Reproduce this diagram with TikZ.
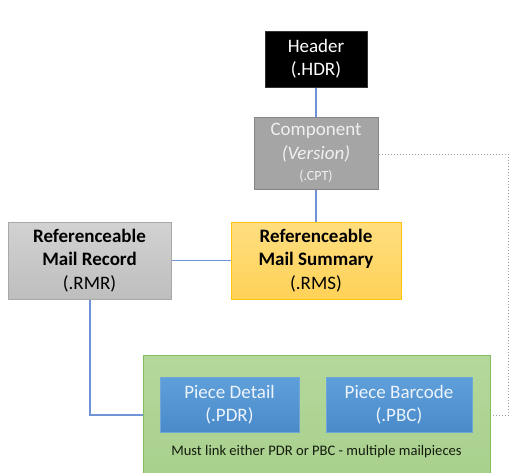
\documentclass[tikz,border=0pt]{standalone}
\usepackage{fontspec}
\setmainfont{Carlito}
\usetikzlibrary{positioning,calc}
\definecolor{linkblue}{HTML}{6F93D6}
\definecolor{dotgray}{HTML}{A0A0A0}
\definecolor{cptfill}{HTML}{A5A5A5}
\definecolor{cptdraw}{HTML}{858585}
\definecolor{cpttext}{HTML}{F0F0F0}
\definecolor{rmrtop}{HTML}{D2D2D2}
\definecolor{rmrbot}{HTML}{BEBEBE}
\definecolor{rmrdraw}{HTML}{A8A8A8}
\definecolor{rmstop}{HTML}{FFDE80}
\definecolor{rmsbot}{HTML}{FFD257}
\definecolor{rmsdraw}{HTML}{FFC20E}
\definecolor{grnfill}{HTML}{A8D08C}
\definecolor{grntop}{HTML}{B4D89C}
\definecolor{grndraw}{HTML}{82BE5E}
\definecolor{bluetop}{HTML}{5FA0DB}
\definecolor{bluebot}{HTML}{4A8AC9}
\definecolor{bluedraw}{HTML}{6EA6DA}
\definecolor{bluetext}{HTML}{EEF4FB}
\definecolor{greentext}{HTML}{141C0E}
\tikzset{
  box/.style={rectangle, inner sep=0pt, align=center, line width=1pt,
    font=\fontsize{19}{23.3}\selectfont},
  link/.style={draw=linkblue, line width=1.5pt},
  dotlink/.style={draw=dotgray, line width=1pt, dotted},
}
\begin{document}
\begin{tikzpicture}[x=1pt,y=-1pt]
\useasboundingbox (0,0) rectangle (509,472);
% green container (its lower edge lies below the picture)
\node[box, draw=grndraw, top color=grntop, bottom color=grnfill,
  minimum width=347pt, minimum height=126pt, anchor=north west] (grp) at (143,354.5) {};
\node[box, draw=bluedraw, top color=bluetop, bottom color=bluebot, text=bluetext,
  minimum width=139pt, minimum height=55pt] (pdr) at (229.5,404.5) {Piece Detail\\(.PDR)};
\node[box, draw=bluedraw, top color=bluetop, bottom color=bluebot, text=bluetext,
  minimum width=146pt, minimum height=55pt] (pbc) at (399,404.5) {Piece Barcode\\(.PBC)};
\node[inner sep=0pt, text=greentext, font=\fontsize{14.6}{17}\selectfont] (note) at (316.5,452)
  {Must link either PDR or PBC - multiple mailpieces};
% header
\node[box, fill=black, draw=black!80, text=white,
  minimum width=102pt, minimum height=56pt] (hdr) at (316,59) {Header\\(.HDR)};
% component
\node[box, fill=cptfill, draw=cptdraw, text=cpttext,
  minimum width=124pt, minimum height=72pt] (cpt) at (316,153)
  {Component\\\textit{(Version)}\\[-2pt]{\fontsize{14}{16}\selectfont(.CPT)}};
% RMR
\node[box, draw=rmrdraw, top color=rmrtop, bottom color=rmrbot, text=black,
  minimum width=163pt, minimum height=77pt] (rmr) at (89.5,260.5)
  {\textbf{Referenceable}\\\textbf{Mail Record}\\(.RMR)};
% RMS
\node[box, draw=rmsdraw, top color=rmstop, bottom color=rmsbot, text=black,
  minimum width=170pt, minimum height=77pt] (rms) at (316,260.5)
  {\textbf{Referenceable}\\\textbf{Mail Summary}\\(.RMS)};
% connectors
\coordinate (c1) at (90,415);
\coordinate (d1) at (508,154);
\coordinate (d2) at (508,415);
\draw[link] (hdr.south) -- (cpt.north);
\draw[link] (cpt.south) -- (rms.north);
\draw[link] (rmr.east) -- (rms.west);
\draw[link] (rmr.south -| c1) -- (c1) -- (c1 -| grp.west);
\draw[dotlink] (cpt.east |- d1) -- (d1) -- (d2) -- (d2 -| grp.east);
\end{tikzpicture}
\end{document}
